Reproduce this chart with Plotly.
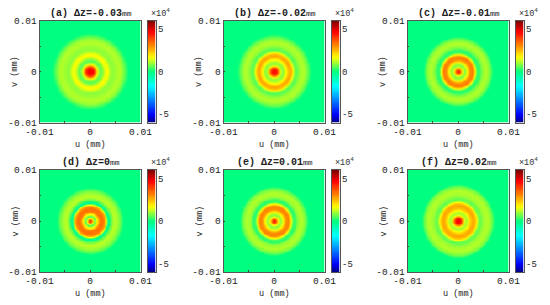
import numpy as np
import plotly.graph_objects as go

titles = ["(a) Δz=-0.03", "(b) Δz=-0.02", "(c) Δz=-0.01",
          "(d) Δz=0", "(e) Δz=0.01", "(f) Δz=0.02"]
title_unit = "mm"
x_label = "u (mm)"
y_label = "v (mm)"

# radial profiles: radius (mm), value (x10^4)
r_a = [0, .0006, .0010, .0015, .0021, .0027, .0032, .0037, .0042, .0050, .0057, .0064, .0070, .0075, .0100]
v_a = [4.8, 4.6, 3.6, 1.4, 0.5, 1.2, 1.8, 1.4, 0.9, 1.05, 1.2, 1.0, 0.45, 0, 0]
r_b = [0, .0005, .0009, .0013, .0018, .0024, .0030, .0035, .0039, .0043, .0050, .0058, .0066, .0073, .0100]
v_b = [4.7, 4.4, 3.0, 1.2, 0.9, 1.8, 2.8, 2.4, 1.1, 0.5, 1.0, 1.2, 0.75, 0, 0]
r_c = [0, .0003, .0007, .0011, .0016, .0023, .0029, .0033, .0037, .0041, .0048, .0056, .0064, .0069, .0100]
v_c = [4.5, 4.1, 2.3, 0.8, 1.2, 3.0, 3.3, 2.1, 0.4, 0.2, 0.95, 1.2, 0.7, 0, 0]
r_d = [0, .0003, .0006, .0009, .0013, .0019, .0025, .0030, .0033, .0036, .0040, .0047, .0055, .0062, .0066, .0100]
v_d = [4.2, 3.6, 1.6, 0.5, 1.6, 3.3, 3.4, 2.7, 1.0, -0.4, 0.5, 1.25, 1.05, 0.5, 0, 0]
r_e = [0, .0003, .0007, .0011, .0016, .0023, .0029, .0033, .0037, .0041, .0047, .0055, .0063, .0068, .0100]
v_e = [4.6, 4.1, 2.2, 0.9, 1.3, 3.0, 3.2, 2.0, 0.5, 0.2, 1.0, 1.2, 0.7, 0, 0]
r_f = [0, .0005, .0009, .0013, .0018, .0024, .0030, .0035, .0039, .0043, .0050, .0059, .0067, .0072, .0100]
v_f = [4.8, 4.5, 2.9, 1.2, 1.2, 2.3, 2.8, 2.3, 1.0, 0.6, 1.05, 1.2, 0.75, 0, 0]
profiles = [(r_a, v_a), (r_b, v_b), (r_c, v_c), (r_d, v_d), (r_e, v_e), (r_f, v_f)]
axis_ticks = [-0.01, 0, 0.01]
axis_labels = ["-0.01", "0", "0.01"]
minor_ticks = [-0.005, 0.005]
bar_ticks = [-5, 0, 5]
bar_labels = ["-5", "0", "5"]

W, H = 550, 305
lefts = [39.5, 223.5, 407.5]
tops = [20.5, 170]
pw, ph = 101, 102
cb_off, cb_w = 108, 8

colorscale = [[0, "rgb(0,0,130)"], [1/12, "rgb(0,0,255)"], [(6-1.7)/12, "rgb(0,255,255)"],
              [0.5, "rgb(0,255,128)"], [(6+1.7)/12, "rgb(255,255,0)"], [(6+3.2)/12, "rgb(255,128,0)"],
              [(6+4.7)/12, "rgb(255,0,0)"], [1, "rgb(128,0,0)"]]

fig = go.Figure()
grid = np.linspace(-0.01, 0.01, 121)
U, V = np.meshgrid(grid, grid)
R = np.hypot(U, V)
bar_y = np.linspace(-6, 6, 121)
FONT = "Liberation Mono, DejaVu Sans Mono, monospace"
TXT = "#222"
annots = []

def note(px, py, text, size, angle=0, xanchor="center", color=TXT):
    annots.append(dict(x=px / W, y=1 - py / H, xref="paper", yref="paper", text=text, showarrow=False,
                       xanchor=xanchor, yanchor="middle", textangle=angle,
                       font=dict(family=FONT, size=size, color=color)))

for i, (title, (rr, vv)) in enumerate(zip(titles, profiles)):
    col, row = i % 3, i // 3
    n = 2 * i + 1
    sa = "" if n == 1 else str(n)
    sb = str(n + 1)
    L, T = lefts[col], tops[row]
    x0, x1 = L / W, (L + pw) / W
    y1, y0 = 1 - T / H, 1 - (T + ph) / H
    fig.add_trace(go.Heatmap(x=grid, y=grid, z=np.interp(R, rr, vv), zmin=-6, zmax=6,
                             colorscale=colorscale, xaxis="x" + sa, yaxis="y" + sa,
                             zsmooth="best", showscale=False, hoverinfo="skip"))
    ax = dict(range=[-0.01, 0.01], tickvals=axis_ticks, ticktext=axis_labels, ticks="inside",
              ticklen=2, tickwidth=0.5, tickcolor="#444", showgrid=False, zeroline=False,
              mirror=True, showline=True, linecolor="#555", linewidth=0.7, automargin=False,
              minor=dict(tickvals=minor_ticks, ticks="inside", ticklen=2, tickwidth=0.5, tickcolor="#444"),
              tickfont=dict(family=FONT, size=9.5, color=TXT))
    fig.layout["xaxis" + sa] = go.layout.XAxis(domain=[x0, x1], anchor="y" + sa, **ax)
    fig.layout["yaxis" + sa] = go.layout.YAxis(domain=[y0, y1], anchor="x" + sa, **ax)
    fig.add_trace(go.Heatmap(x=[0, 1], y=bar_y, z=[[v, v] for v in bar_y], zmin=-6, zmax=6,
                             colorscale=colorscale, xaxis="x" + sb, yaxis="y" + sb,
                             zsmooth="best", showscale=False, hoverinfo="skip"))
    cx0 = (L + cb_off) / W
    fig.layout["xaxis" + sb] = go.layout.XAxis(domain=[cx0, cx0 + cb_w / W], anchor="y" + sb,
        range=[0, 1], showticklabels=False, ticks="", showgrid=False, zeroline=False,
        mirror=True, showline=True, linecolor="#555", linewidth=0.5, automargin=False)
    fig.layout["yaxis" + sb] = go.layout.YAxis(domain=[y0, y1], anchor="x" + sb, side="right",
        range=[-6, 6], tickvals=bar_ticks, ticktext=bar_labels, ticks="", showgrid=False,
        zeroline=False, mirror=True, showline=True, linecolor="#555", linewidth=0.5, automargin=False,
        tickfont=dict(family=FONT, size=9, color=TXT))
    note(L + pw / 2 + 1, T - 7.5, "<b>" + title + "</b><span style='font-size:8px'>" + title_unit + "</span>", 10)
    note(L + cb_off + 1, T - 8, "×10<sup>4</sup>", 8.5, xanchor="left", color="#333")
    note(L + pw / 2, T + ph + 22, x_label, 8.5)
    note(L - 24, T + ph / 2, y_label, 8.5, angle=-90)

fig.update_layout(width=W, height=H, margin=dict(l=0, r=0, t=0, b=0),
                  paper_bgcolor="white", plot_bgcolor="white", annotations=annots, showlegend=False)
fig.write_html("out.html", config={"displayModeBar": False},
               post_script="document.body.style.margin='0';document.documentElement.style.overflow='hidden';")
